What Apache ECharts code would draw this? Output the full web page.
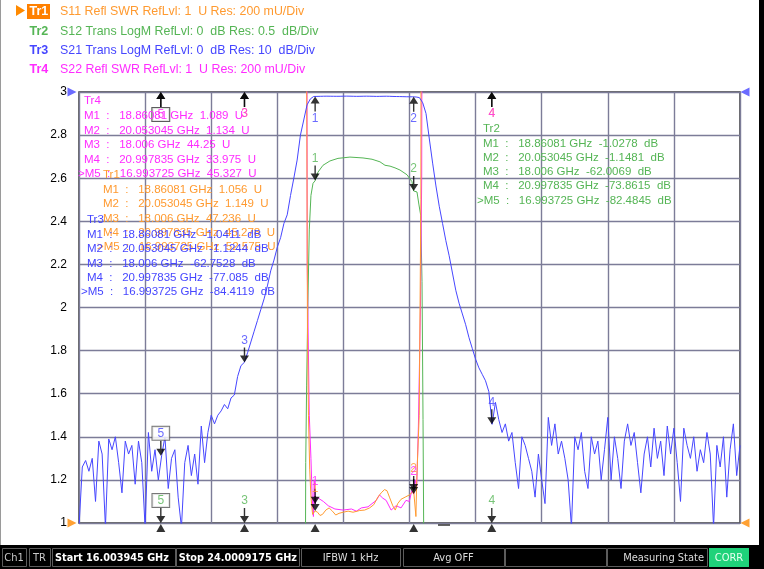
<!DOCTYPE html>
<html>
<head>
<meta charset="utf-8">
<script src="https://cdn.jsdelivr.net/npm/echarts@6/dist/echarts.min.js"></script>
<style>
html, body { margin: 0; padding: 0; background: #000; }
#wrap { position: relative; width: 764px; height: 569px; background: #000; }
#paper { position: absolute; left: 0; top: 0; width: 758px; height: 545px; background: #fff; border-left: 1px solid #9a9a9a; }
#chart { position: absolute; left: 0; top: 0; width: 764px; height: 569px; }
</style>
</head>
<body>
<div id="wrap"><div id="paper"></div><div id="chart"></div></div>
<script>
// sweep settings
var startGHz = 16.003945, stopGHz = 24.0009175, sweepPoints = 201;

// Tr3  S21 (dB) on the sweep grid
var s21Db = [
  -101, -87, -85.5, -88, -85, -95, -81, -84, -101, -80.5,
  -83, -80, -86, -93, -81, -84, -82, -91, -81, -86,
  -101, -79, -88, -83, -90, -84.4, -80, -92, -85, -83,
  -94, -101, -86, -82, -89, -84, -91, -77.5, -86, -79,
  -75, -77, -75, -74, -72.5, -73.5, -71, -70.3, -66, -63.5,
  -62.75, -60.5, -58, -55.5, -53, -50.5, -48, -45, -41.5, -39,
  -36, -33.8, -30.5, -28.5, -24, -20, -15.8, -10, -6.5, -3,
  -1.6, -1.04, -1.02, -1.0, -0.98, -0.97, -0.98, -0.99, -1.0, -0.99,
  -0.97, -0.96, -0.97, -0.99, -1.01, -1.0, -0.98, -0.97, -0.98, -1.0,
  -1.02, -1.01, -0.99, -0.98, -1.0, -1.03, -1.05, -1.06, -1.08, -1.1,
  -1.11, -1.12, -1.16, -1.3, -2.5, -5, -10.9, -16.5, -21.8, -26.5,
  -30.5, -34.5, -38, -42, -46, -49, -51.5, -54, -57, -59.5,
  -62, -64, -65.5, -67, -69.5, -77.1, -72, -76, -79, -77,
  -81, -79, -86, -92, -80, -82, -85, -88, -94, -84,
  -90, -95.5, -75.5, -82, -77, -84, -81, -85, -90, -101,
  -80, -83, -79, -88, -92, -80, -84, -81, -90, -83,
  -75.5, -90, -80, -85, -92, -81, -77, -82, -79, -86,
  -93, -84, -80, -87, -78, -85, -81, -89, -77.5, -84,
  -78, -86, -95, -78, -82, -85, -80, -88, -83, -86,
  -79, -84, -101, -82, -87, -80, -94, -83, -77, -89, -82
];

// Tr2  S12 (dB)
var s12Freq = [16.004, 16.5, 16.994, 17.5, 18.006, 18.4, 18.62, 18.71, 18.735, 18.747,
  18.758, 18.772, 18.79, 18.81, 18.835, 18.861, 18.895, 18.956, 19.04, 19.137,
  19.282, 19.44, 19.549, 19.645, 19.706, 19.73, 19.767, 19.827, 19.887, 19.972,
  20.032, 20.053, 20.093, 20.117, 20.138, 20.154, 20.166, 20.18, 20.22, 20.45,
  20.998, 21.6, 22.6, 23.4, 24.001];
var s12Db = [-91, -87, -82.48, -74, -62.01, -47, -30, -16, -8, -4.3,
  -3.4, -2.5, -1.6, -1.2, -1.06, -1.028, -0.93, -0.85, -0.80, -0.77,
  -0.755, -0.765, -0.78, -0.81, -0.85, -0.83, -0.86, -0.88, -0.905, -0.96,
  -1.04, -1.148, -1.16, -1.31, -1.43, -2.2, -3.8, -6, -15, -42,
  -73.86, -84, -88, -86, -90];

// Tr1  S11 (SWR)
var s11Freq = [16.004, 16.994, 17.5, 18.006, 18.5, 18.7, 18.74, 18.755, 18.768, 18.78,
  18.795, 18.81, 18.83, 18.861, 18.89, 18.92, 18.95, 18.99, 19.03, 19.07,
  19.11, 19.15, 19.2, 19.26, 19.32, 19.4, 19.46, 19.52, 19.57, 19.62,
  19.66, 19.7, 19.73, 19.76, 19.8, 19.83, 19.86, 19.9, 19.95, 20.0,
  20.053, 20.08, 20.09, 20.12, 20.14, 20.155, 20.2, 20.998, 22.0, 24.001];
var s11Swr = [55, 52.575, 50, 47.236, 35, 20, 12, 3.5, 1.9, 1.5,
  1.25, 1.12, 1.04, 1.056, 1.05, 1.035, 1.04, 1.06, 1.07, 1.055,
  1.037, 1.045, 1.05, 1.055, 1.05, 1.058, 1.06, 1.07, 1.085, 1.12,
  1.14, 1.155, 1.15, 1.12, 1.08, 1.06, 1.09, 1.11, 1.12, 1.13,
  1.149, 1.03, 1.2, 1.5, 2.5, 8, 30, 45.278, 50, 54];

// Tr4  S22 (SWR)
var s22Freq = [16.004, 16.994, 17.5, 18.006, 18.5, 18.7, 18.745, 18.765, 18.79, 18.81,
  18.825, 18.84, 18.85, 18.861, 18.88, 18.92, 18.96, 19.02, 19.1, 19.2,
  19.3, 19.36, 19.42, 19.5, 19.6, 19.64, 19.68, 19.72, 19.78, 19.84,
  19.9, 19.96, 20.0, 20.03, 20.053, 20.07, 20.09, 20.11, 20.135, 20.15,
  20.165, 20.2, 20.998, 22.0, 24.001];
var s22Swr = [48, 45.327, 46, 44.25, 30, 15, 8, 2.2, 1.5, 1.3,
  1.12, 1.03, 1.2, 1.089, 1.12, 1.11, 1.1, 1.08, 1.065, 1.06,
  1.065, 1.055, 1.07, 1.075, 1.105, 1.13, 1.115, 1.105, 1.06, 1.08,
  1.07, 1.105, 1.1, 1.15, 1.134, 1.2, 1.17, 1.45, 2.0, 2.6,
  6, 20, 33.975, 40, 42];

// markers M1..M5
var markerFreq = [18.86081, 20.053045, 18.006, 20.997835, 16.993725];
var tr1Mk = [1.056, 1.149, 47.236, 45.278, 52.575];
var tr2Mk = [-1.0278, -1.1481, -62.0069, -73.8615, -82.4845];
var tr3Mk = [-1.0411, -1.1244, -62.7528, -77.085, -84.4119];
var tr4Mk = [1.089, 1.134, 44.25, 33.975, 45.327];

var cOrange = '#ff9a30', cGreen = '#55b555', cBlue = '#4646ff', cMagenta = '#ff2cff';
var FONT = '"Liberation Sans", Arial, sans-serif';
var COND = '"DejaVu Sans Condensed", "Liberation Sans Narrow", "Liberation Sans", sans-serif';

var upArrow = 'path://M4.5,0L9,7L5.2,7L5.2,15L3.8,15L3.8,7L0,7Z';
var downArrow = 'path://M3.8,0L5.2,0L5.2,8L9,8L4.5,15L0,8L3.8,8Z';
var triRight = 'path://M0,0L10,5L0,10Z';
var triLeft = 'path://M10,0L0,5L10,10Z';

var s21Pairs = s21Db.map(function (v, i) {
  return [startGHz + i * (stopGHz - startGHz) / (sweepPoints - 1), v];
});
function pairs(f, v) { return f.map(function (x, i) { return [x, v[i]]; }); }

function traceSeries(name, data, yIdx, color, z) {
  return {
    name: name, type: 'line', xAxisIndex: 1, yAxisIndex: yIdx, data: data,
    showSymbol: false, symbol: 'none', clip: true, z: z,
    lineStyle: { color: color, width: 1 }, silent: true
  };
}

// marker arrows; clamp to the edge when the value is off screen
function markerSeries(vals, yIdx, lo, hi, color) {
  var data = markerFreq.map(function (f, i) {
    var v = vals[i], up;
    if (v > hi) { v = hi; up = true; }
    else if (v < lo) { v = lo; up = false; }
    else up = (v - lo) / (hi - lo) > 0.95;
    var lbl = {
      show: true, formatter: String(i + 1), color: color, fontSize: 12, fontFamily: FONT,
      position: up ? 'bottom' : 'top', distance: 1
    };
    if (i === 4) {
      lbl.borderColor = '#555'; lbl.borderWidth = 1; lbl.padding = [1, 5, 0, 5]; lbl.backgroundColor = '#fff';
    }
    return { value: [f, v], symbol: up ? upArrow : downArrow, symbolOffset: [0, up ? 7.5 : -7.5], label: lbl };
  });
  return {
    type: 'scatter', xAxisIndex: 1, yAxisIndex: yIdx, data: data, symbolSize: [9, 15],
    itemStyle: { color: '#000' }, clip: false, silent: true, z: 6
  };
}

function txt(x, y, s, color, size, extra) {
  var st = { text: s, fill: color, fontSize: size || 11.5, fontFamily: FONT, verticalAlign: 'middle', align: 'left' };
  for (var k in extra) st[k] = extra[k];
  return { type: 'text', x: x, y: y, style: st, z: 20, silent: true };
}

function infoBlock(name, vals, unit, x, yName, y0, dy, color) {
  var els = [txt(x, yName, name, color)];
  markerFreq.forEach(function (f, i) {
    var active = i === 4;
    var line = (active ? '>' : '') + 'M' + (i + 1) + '  :   ' + f + ' GHz  ' + vals[i] + '  ' + unit;
    els.push(txt(active ? x - 6 : x, y0 + i * dy, line, color));
  });
  return els;
}

var graphics = [];
// header
graphics.push({ type: 'polygon', shape: { points: [[16, 5], [25, 10.5], [16, 16]] }, style: { fill: '#ff8a00' }, z: 20 });
graphics.push({ type: 'rect', shape: { x: 27, y: 4, width: 23, height: 15 }, style: { fill: '#ff8000' }, z: 20 });
graphics.push(txt(29.5, 12, 'Tr1', '#fff', 12.5, { fontWeight: 'bold' }));
graphics.push(txt(60, 12, 'S11 Refl SWR RefLvl: 1  U Res: 200 mU/Div', cOrange, 12.4));
graphics.push(txt(29.5, 31.5, 'Tr2', cGreen, 12.5, { fontWeight: 'bold' }));
graphics.push(txt(60, 31.5, 'S12 Trans LogM RefLvl: 0  dB Res: 0.5  dB/Div', cGreen, 12.4));
graphics.push(txt(29.5, 50.5, 'Tr3', cBlue, 12.5, { fontWeight: 'bold' }));
graphics.push(txt(60, 50.5, 'S21 Trans LogM RefLvl: 0  dB Res: 10  dB/Div', cBlue, 12.4));
graphics.push(txt(29.5, 69.5, 'Tr4', cMagenta, 12.5, { fontWeight: 'bold' }));
graphics.push(txt(60, 69.5, 'S22 Refl SWR RefLvl: 1  U Res: 200 mU/Div', cMagenta, 12.4));

// marker info blocks
graphics = graphics.concat(infoBlock('Tr4', tr4Mk, 'U', 84, 101, 116, 14.5, cMagenta));
graphics = graphics.concat(infoBlock('Tr1', tr1Mk, 'U', 103, 175, 190, 14.3, cOrange));
graphics = graphics.concat(infoBlock('Tr3', tr3Mk, 'dB', 87, 220, 235, 14.3, cBlue));
graphics = graphics.concat(infoBlock('Tr2', tr2Mk, 'dB', 483, 129, 144, 14.1, cGreen));

graphics.push({ type: 'line', shape: { x1: 438, y1: 525, x2: 450, y2: 525 }, style: { stroke: '#333', lineWidth: 1.5 }, z: 20 });

// status bar
var boxes = [[2, 26], [29, 50], [52, 175], [176, 299], [301, 400], [403, 504], [505, 606], [607, 707]];
boxes.forEach(function (b) {
  graphics.push({ type: 'rect', shape: { x: b[0] + 0.5, y: 548.5, width: b[1] - b[0], height: 18 }, style: { fill: '#000', stroke: '#5c5c5c', lineWidth: 1 }, z: 20 });
});
graphics.push({ type: 'rect', shape: { x: 709, y: 548, width: 40, height: 19 }, style: { fill: '#1fd27a' }, z: 20 });
function stxt(x, s, color, align, bold) {
  return { type: 'text', x: x, y: 558, z: 21, silent: true,
    style: { text: s, fill: color, fontSize: bold ? 10.8 : 11, fontFamily: COND, fontWeight: bold ? 'bold' : 'normal', verticalAlign: 'middle', align: align } };
}
graphics.push(stxt(14, 'Ch1', '#c8c8c8', 'center'));
graphics.push(stxt(39.5, 'TR', '#c8c8c8', 'center'));
graphics.push(stxt(55, 'Start 16.003945 GHz', '#ffffff', 'left', true));
graphics.push(stxt(297, 'Stop 24.0009175 GHz', '#ffffff', 'right', true));
graphics.push(stxt(350.5, 'IFBW 1 kHz', '#dcdcdc', 'center'));
graphics.push(stxt(453.5, 'Avg OFF', '#dcdcdc', 'center'));
graphics.push(stxt(704, 'Measuring State', '#dcdcdc', 'right'));
graphics.push(stxt(729, 'CORR', '#e8fff0', 'center'));

var gridLine = { color: '#7c7c98', width: 1.4 };

var option = {
  animation: false,
  backgroundColor: 'transparent',
  grid: { left: 79, top: 92, width: 661, height: 431, show: true, backgroundColor: '#fff', borderColor: '#3a3a3a', borderWidth: 1.5 },
  xAxis: [
    { type: 'value', min: 0, max: 10, interval: 1, axisLine: { show: false }, axisTick: { show: false },
      axisLabel: { show: false }, splitLine: { show: true, lineStyle: gridLine } },
    { type: 'value', min: startGHz, max: stopGHz, show: false, splitLine: { show: false } }
  ],
  yAxis: [
    { type: 'value', min: 1, max: 3, interval: 0.2, axisLine: { show: false }, axisTick: { show: false },
      axisLabel: { color: '#000', fontSize: 12, fontFamily: FONT, margin: 12,
        formatter: function (v) { return String(+v.toFixed(1)); } },
      splitLine: { show: true, lineStyle: gridLine } },
    { type: 'value', min: -100, max: 0, show: false, splitLine: { show: false } },
    { type: 'value', min: -5, max: 0, show: false, splitLine: { show: false } }
  ],
  series: [
    traceSeries('Tr2', pairs(s12Freq, s12Db), 2, cGreen, 2),
    traceSeries('Tr4', pairs(s22Freq, s22Swr), 0, cMagenta, 3),
    traceSeries('Tr1', pairs(s11Freq, s11Swr), 0, cOrange, 3),
    traceSeries('Tr3', s21Pairs, 1, cBlue, 4),
    markerSeries(tr1Mk, 0, 1, 3, cOrange),
    markerSeries(tr2Mk, 2, -5, 0, cGreen),
    markerSeries(tr3Mk, 1, -100, 0, cBlue),
    markerSeries(tr4Mk, 0, 1, 3, cMagenta),
    { type: 'scatter', xAxisIndex: 1, yAxisIndex: 0, clip: false, silent: true, z: 6,
      data: markerFreq.map(function (f) { return [f, 1]; }),
      symbol: 'triangle', symbolSize: [9, 8], symbolOffset: [0, 5], itemStyle: { color: '#000' } },
    { type: 'scatter', xAxisIndex: 1, yAxisIndex: 1, clip: false, silent: true, z: 6, symbolSize: [9, 9],
      itemStyle: { color: cBlue },
      data: [{ value: [startGHz, 0], symbol: triRight, symbolOffset: [-7, 0] },
             { value: [stopGHz, 0], symbol: triLeft, symbolOffset: [5, 0] }] },
    { type: 'scatter', xAxisIndex: 1, yAxisIndex: 0, clip: false, silent: true, z: 6, symbolSize: [9, 9],
      itemStyle: { color: '#ff8a00' },
      data: [{ value: [startGHz, 1], symbol: triRight, symbolOffset: [-7, 0] },
             { value: [stopGHz, 1], symbol: triLeft, symbolOffset: [5, 0] }] }
  ],
  graphic: graphics
};

var chart = echarts.init(document.getElementById('chart'), null, { renderer: 'canvas' });
chart.setOption(option);
</script>
</body>
</html>
